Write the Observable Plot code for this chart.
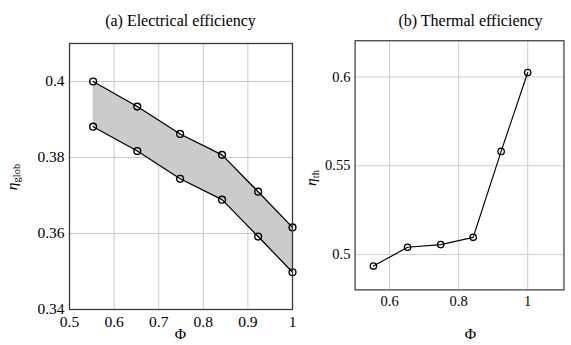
<!DOCTYPE html>
<html>
<head>
<meta charset="utf-8">
<script src="https://cdn.jsdelivr.net/npm/d3@7"></script>
<script src="https://cdn.jsdelivr.net/npm/@observablehq/plot@0.6"></script>
<style>
  html, body { margin: 0; padding: 0; background: #fff; }
  body { position: relative; width: 571px; height: 345px; overflow: hidden;
         font-family: "Liberation Serif", "DejaVu Serif", "Times New Roman", Times, serif; color: #000; }
  .panel { position: absolute; top: 0; }
  .lbl { position: absolute; white-space: nowrap; transform: translate(-50%, -50%); line-height: 1; }
  .title { font-size: 16px; }
  .axl { font-size: 15.5px; }
  .ylab { font-size: 15.5px; transform: translate(-50%, -50%) rotate(-90deg); }
  .ylab sub { font-style: normal; font-size: 10.5px; vertical-align: -3px; }
</style>
</head>
<body>
<div id="a" class="panel" style="left:0px"></div>
<div id="b" class="panel" style="left:290px"></div>

<div class="lbl title" style="left:180.5px; top:21px">(a) Electrical efficiency</div>
<div class="lbl title" style="left:470.5px; top:21px">(b) Thermal efficiency</div>
<div class="lbl axl" style="left:180.5px; top:334px">Φ</div>
<div class="lbl axl" style="left:470.5px; top:334px">Φ</div>
<div class="lbl ylab" style="left:13px; top:177px"><i>η</i><sub>glob</sub></div>
<div class="lbl ylab" style="left:312px; top:178px"><i>η</i><sub>th</sub></div>

<script>
// Load fraction Φ and the measured efficiencies
const phi = [0.553, 0.652, 0.748, 0.842, 0.923, 1.0];
const etaGlobUpper = [0.4000, 0.3934, 0.3862, 0.3807, 0.3710, 0.3616];
const etaGlobLower = [0.3881, 0.3817, 0.3744, 0.3689, 0.3592, 0.3498];
const etaTh = [0.4935, 0.5041, 0.5056, 0.5097, 0.5581, 0.6025];

// Tick values for both panels
const xTicksA = [0.5, 0.6, 0.7, 0.8, 0.9, 1];
const yTicksA = [0.34, 0.36, 0.38, 0.4];
const xTicksB = [0.6, 0.8, 1];
const yTicksB = [0.5, 0.55, 0.6];

const rowsA = phi.map((p, i) => ({phi: p, hi: etaGlobUpper[i], lo: etaGlobLower[i]}));
const rowsB = phi.map((p, i) => ({phi: p, eta: etaTh[i]}));

const fmt = d => String(d);
const gridStyle = {stroke: "#c4c4c4", strokeOpacity: 1, strokeWidth: 0.9};
const lineStyle = {stroke: "#000", strokeWidth: 1.25};
const dotStyle = {r: 3.4, stroke: "#000", strokeWidth: 1.4, fill: "none"};
const serif = "'Liberation Serif', 'DejaVu Serif', 'Times New Roman', Times, serif";

const common = {
  width: 300, height: 345,
  marginLeft: 69, marginRight: 8, marginTop: 43, marginBottom: 36,
  style: {fontFamily: serif, fontSize: "15.5px", color: "#000", background: "transparent"}
};

const chartA = Plot.plot({
  ...common,
  x: {domain: [0.5, 1]},
  y: {domain: [0.34, 0.41]},
  marks: [
    Plot.gridX(xTicksA, gridStyle),
    Plot.gridY(yTicksA, gridStyle),
    Plot.areaY(rowsA, {x: "phi", y1: "lo", y2: "hi", fill: "#cbcbcb"}),
    Plot.lineY(rowsA, {x: "phi", y: "hi", ...lineStyle}),
    Plot.lineY(rowsA, {x: "phi", y: "lo", ...lineStyle}),
    Plot.dot(rowsA, {x: "phi", y: "hi", ...dotStyle}),
    Plot.dot(rowsA, {x: "phi", y: "lo", ...dotStyle}),
    Plot.frame({stroke: "#3a3a3a", strokeWidth: 1.3}),
    Plot.axisX(xTicksA, {tickFormat: fmt, tickSize: 0, tickPadding: 6, label: null, fontFamily: serif}),
    Plot.axisY(yTicksA, {tickFormat: fmt, tickSize: 0, tickPadding: 5, label: null, fontFamily: serif})
  ]
});

const chartB = Plot.plot({
  ...common,
  x: {domain: [0.5, 1.105]},
  y: {domain: [0.4801, 0.6204]},
  marks: [
    Plot.gridX(xTicksB, gridStyle),
    Plot.gridY(yTicksB, gridStyle),
    Plot.lineY(rowsB, {x: "phi", y: "eta", ...lineStyle}),
    Plot.dot(rowsB, {x: "phi", y: "eta", ...dotStyle}),
    Plot.frame({stroke: "#3a3a3a", strokeWidth: 1.3}),
    Plot.axisX(xTicksB, {tickFormat: fmt, tickSize: 0, tickPadding: 6, label: null, fontFamily: serif}),
    Plot.axisY(yTicksB, {tickFormat: fmt, tickSize: 0, tickPadding: 5, label: null, fontFamily: serif})
  ]
});

document.getElementById("a").appendChild(chartA);
document.getElementById("b").appendChild(chartB);
</script>
</body>
</html>
